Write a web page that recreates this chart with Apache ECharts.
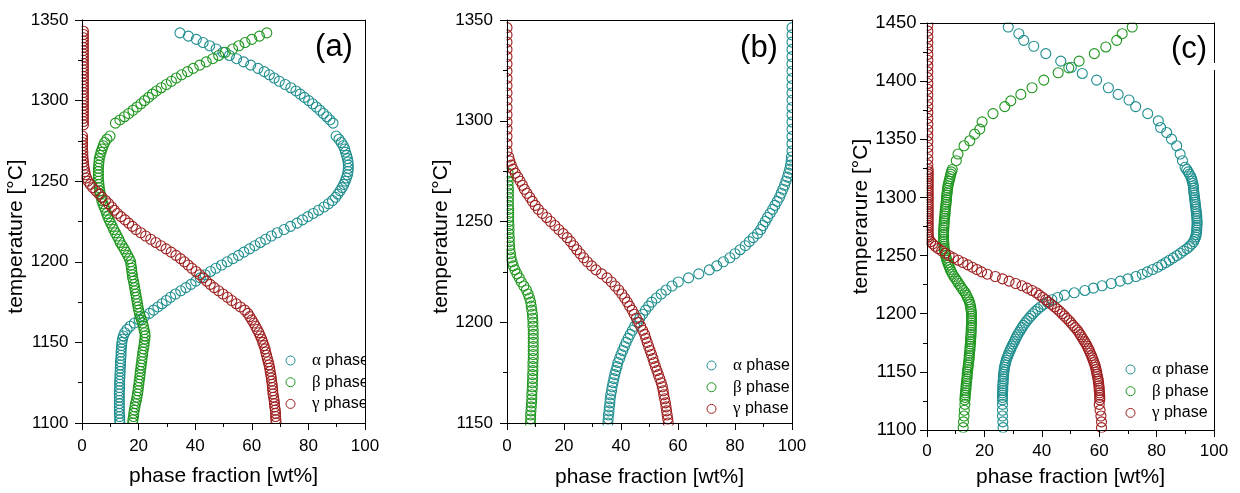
<!DOCTYPE html>
<html><head><meta charset="utf-8">
<script src="https://cdn.jsdelivr.net/npm/echarts@6/dist/echarts.min.js"></script>
<style>html,body{margin:0;padding:0;background:#fff}#c{width:1240px;height:493px}</style>
</head><body><div id="c"></div>
<script>
// ---------- data ----------
const seriesNames = ['α phase', 'β phase', 'γ phase'];
const xTicks = [0, 20, 40, 60, 80, 100];
const yTicksA = [1100, 1150, 1200, 1250, 1300, 1350];
const yTicksB = [1150, 1200, 1250, 1300, 1350];
const yTicksC = [1100, 1150, 1200, 1250, 1300, 1350, 1400, 1450];

// panel (a): lower dense branch
const tA = [1100,1102,1104,1106,1108,1110,1112,1114,1116,1118,
 1120,1122,1124,1126,1128,1130,1132,1134,1136,1138,
 1140,1142,1144,1146,1148,1150,1152,1154,1156,1158,
 1160,1162,1164,1166,1168,1170,1172,1174,1176,1178,
 1180,1182,1184,1186,1188,1190,1192,1194,1196,1198,
 1200,1202,1204,1206,1208,1210,1212,1214,1216,1218,
 1220,1222,1224,1226,1228,1230,1232,1234,1236,1238,
 1240,1242,1244,1246,1248,1250,1252,1254,1256,1258,
 1260,1262,1264,1266,1268,1270,1272,1274,1276,1278];
const alphaA = [13.4,13.3,13.3,13.2,13.2,13.2,13.2,13.2,13.2,13.2,
 13.2,13.3,13.3,13.3,13.4,13.4,13.5,13.5,13.6,13.6,
 13.7,13.8,13.8,13.9,14.0,14.1,14.3,14.6,15.1,15.9,
 17.0,18.5,20.2,22.0,23.8,25.3,26.8,28.3,29.8,31.3,
 33.0,34.9,36.7,38.5,40.2,41.8,43.5,45.4,47.3,49.3,
 51.3,53.3,55.3,57.2,59.2,61.1,63.0,64.9,66.9,69.0,
 71.4,73.7,76.0,77.9,79.8,81.7,83.6,85.5,87.1,88.5,
 89.6,90.4,91.2,91.9,92.5,93.0,93.4,93.8,94.0,94.1,
 94.1,94.0,93.8,93.5,93.1,92.8,92.3,91.6,90.8,89.8];
const betaA = [17.9,18.0,18.2,18.3,18.5,18.7,18.9,19.2,19.4,19.6,
 19.8,19.9,20.1,20.2,20.4,20.5,20.6,20.8,20.9,21.1,
 21.2,21.4,21.5,21.7,21.9,22.0,22.2,22.3,22.2,21.9,
 21.7,21.4,21.0,20.6,20.3,20.0,19.8,19.6,19.4,19.2,
 19.0,18.8,18.6,18.4,18.2,17.9,17.8,17.6,17.5,17.3,
 17.2,16.7,16.1,15.5,14.9,14.2,13.5,13.0,12.4,11.8,
 11.2,10.7,10.1,9.6,9.1,8.7,8.3,7.8,7.4,7.0,
 6.8,6.5,6.3,6.1,6.0,5.9,5.8,5.8,5.8,5.8,
 5.9,6.0,6.1,6.4,6.7,7.1,7.5,8.0,8.8,9.9];
const gammaA = [68.6,68.5,68.4,68.4,68.3,68.1,68.0,67.9,67.7,67.5,
 67.4,67.3,67.2,67.0,66.9,66.7,66.5,66.3,66.1,65.8,
 65.5,65.2,64.9,64.7,64.3,63.9,63.5,63.0,62.5,61.9,
 61.3,60.7,60.0,59.3,58.6,57.5,56.0,54.5,52.9,51.4,
 49.8,48.3,46.7,45.3,44.0,42.8,41.6,40.3,38.8,37.5,
 36.2,34.8,33.2,31.5,29.7,27.9,26.1,24.3,22.5,20.8,
 19.1,17.8,16.5,15.2,13.8,12.5,11.4,10.5,9.4,8.3,
 7.1,6.0,4.9,3.8,2.9,2.1,1.6,1.2,1.0,0.8,
 0.6,0.5,0.4,0.3,0.3,0.2,0.2,0.2,0.2,0.2];
// panel (a): upper branch
const tAU = [1286,1288,1290,1292,1294,1296,1298,1300,1302,1304,1306,1308,1310,1312,1314,
 1316,1318,1320,1322,1324,1326,1328,1330,1332,1334,1336,1338,1340,1342];
const alphaAU = [88.7,87.6,86.5,85.3,84.1,82.8,81.5,80.1,78.6,77.1,75.6,73.8,71.8,69.7,67.9,
 66.2,64.4,62.2,59.6,57.1,54.6,52.1,49.8,47.4,45.1,42.8,40.4,37.6,34.6];
const betaAU = [11.8,13.4,15.0,16.5,18.0,19.4,20.8,22.1,23.5,24.9,26.3,28.0,29.8,31.6,33.3,
 35.2,37.3,39.3,41.6,43.9,46.2,48.3,50.6,53.2,55.4,57.6,60.0,62.7,65.3];
const tAU2 = [1285,1287,1289,1291,1293,1295,1297,1299,1301,1303,1305,1307,1309,1311,1313,1315,1317,1319,1321,
 1323,1325,1327,1329,1331,1333,1335,1337,1339,1341,1343];
const gammaAU = [0.5,0.5,0.5,0.5,0.5,0.5,0.5,0.5,0.5,0.5,0.5,0.5,0.5,0.5,0.5,
 0.5,0.5,0.5,0.5,0.5,0.5,0.5,0.5,0.5,0.5,0.5,0.5,0.5,0.5,0.5];

// panel (b)
const tB = [1150,1152,1154,1156,1158,1160,1162,1164,1166,1168,
 1170,1172,1174,1176,1178,1180,1182,1184,1186,1188,
 1190,1192,1194,1196,1198,1200,1202,1204,1206,1208,
 1210,1212,1214,1216,1218,1220,1222,1224,1226,1228,
 1230,1232,1234,1236,1238,1240,1242,1244,1246,1248,
 1250,1252,1254,1256,1258,1260,1262,1264,1266,1268,
 1270,1272,1274,1276,1278,1280,1282];
const alphaB = [35.4,35.5,35.6,35.8,35.9,36.1,36.2,36.4,36.7,36.9,
 37.2,37.5,37.8,38.2,38.6,38.9,39.5,40.0,40.6,41.2,
 41.8,42.5,43.2,44.0,44.8,45.7,46.6,47.6,48.6,49.7,
 50.8,52.4,54.1,55.8,57.9,60.1,63.7,67.3,71.0,73.6,
 75.9,78.2,80.0,81.8,83.6,85.0,86.4,87.9,89.0,89.8,
 90.6,91.4,92.3,93.2,94.0,94.8,95.6,96.2,96.8,97.4,
 97.9,98.4,98.8,99.2,99.5,99.7,99.8];
const gammaB = [56.6,56.4,56.2,56.0,55.8,55.6,55.3,55.0,54.8,54.5,
 54.1,53.6,53.1,52.6,52.1,51.6,51.2,50.7,50.2,49.7,
 49.2,48.7,48.3,47.6,46.9,46.2,45.4,44.6,43.9,43.0,
 42.2,41.3,40.3,39.2,37.9,36.6,35.1,33.2,31.2,29.7,
 28.2,26.9,25.7,24.5,23.4,22.3,21.1,19.7,18.2,16.8,
 15.3,13.9,12.4,11.0,9.9,8.9,8.0,7.0,6.1,5.4,
 4.6,3.8,2.9,2.1,1.5,1.0,0.6];
const tB2 = [1150,1152,1154,1156,1158,1160,1162,1164,1166,1168,
 1170,1172,1174,1176,1178,1180,1182,1184,1186,1188,
 1190,1192,1194,1196,1198,1200,1202,1204,1206,1208,
 1210,1212,1214,1216,1218,1220,1222,1224,1226,1228,
 1230,1232,1234,1236,1238,1240,1242,1244,1246,1248,
 1250,1252,1254,1256,1258,1260,1262,1264,1266,1268,
 1270,1272,1274];
const betaB = [8.2,8.3,8.3,8.4,8.5,8.6,8.7,8.7,8.8,8.9,
 8.9,9.0,9.0,9.1,9.1,9.1,9.2,9.2,9.2,9.2,
 9.2,9.2,9.2,9.2,9.1,9.1,9.0,8.9,8.7,8.5,
 8.3,7.9,7.4,6.8,5.9,5.0,4.3,3.5,2.8,2.2,
 1.8,1.4,1.2,1.0,0.9,0.8,0.8,0.7,0.7,0.7,
 0.6,0.6,0.6,0.6,0.5,0.5,0.5,0.5,0.5,0.4,
 0.4,0.4,0.4];
const tBU = [1285.0,1288.6,1292.2,1295.8,1299.4,1303.0,1306.6,1310.2,1313.8,
 1317.4,1321.0,1324.6,1328.2,1331.8,1335.4,1339.0,1342.6,1346.2];
const alphaBU = [100,100,100,100,100,100,100,100,100,100,100,100,100,100,100,100,100,100];
const gammaBU = [0,0,0,0,0,0,0,0,0,0,0,0,0,0,0,0,0,0];

// panel (c): dense branch
const tC = [1126,1128,1130,1132,1134,1136,1138,1140,1142,1144,
 1146,1148,1150,1152,1154,1156,1158,1160,1162,1164,
 1166,1168,1170,1172,1174,1176,1178,1180,1182,1184,
 1186,1188,1190,1192,1194,1196,1198,1200,1202,1204,
 1206,1208,1210,1212,1214,1216,1218,1220,1222,1224,
 1226,1228,1230,1232,1234,1236,1238,1240,1242,1244,
 1246,1248,1250,1252,1254,1256,1258,1260,1262,1264,
 1266,1268,1270,1272,1274,1276,1278,1280,1282,1284,
 1286,1288,1290,1292,1294,1296,1298,1300,1302,1304,
 1306,1308,1310,1312,1314,1316,1318,1320,1322,1324];
const alphaC = [26.3,26.3,26.3,26.3,26.4,26.4,26.4,26.5,26.5,26.6,
 26.6,26.7,26.8,26.9,27.0,27.2,27.4,27.6,27.9,28.2,
 28.5,28.9,29.2,29.6,30.0,30.4,30.8,31.2,31.6,32.1,
 32.6,33.1,33.6,34.2,34.8,35.5,36.2,36.9,37.7,38.6,
 39.6,40.7,41.9,43.5,45.5,47.9,51.3,55.0,58.0,61.0,
 64.2,67.3,70.0,72.8,75.0,76.8,78.6,80.4,81.8,83.2,
 84.5,85.8,87.1,88.3,89.4,90.6,91.5,92.3,92.9,93.3,
 93.6,93.8,93.9,94.0,94.0,94.1,94.1,94.1,94.0,94.0,
 93.9,93.8,93.7,93.6,93.5,93.4,93.3,93.2,93.1,93.0,
 92.9,92.9,92.8,92.6,92.4,92.2,91.9,91.4,91.0,90.5];
const betaC = [13.2,13.3,13.3,13.4,13.5,13.6,13.6,13.7,13.8,13.9,
 14.0,14.0,14.1,14.2,14.3,14.4,14.5,14.6,14.7,14.7,
 14.8,14.9,15.0,15.0,15.1,15.2,15.2,15.3,15.3,15.4,
 15.4,15.4,15.5,15.5,15.5,15.5,15.5,15.5,15.4,15.3,
 15.2,15.0,14.8,14.5,14.1,13.7,13.3,12.7,12.1,11.6,
 11.0,10.5,10.0,9.4,8.9,8.5,8.1,7.8,7.5,7.2,
 6.9,6.7,6.5,6.3,6.1,6.0,5.9,5.9,5.8,5.8,
 5.8,5.8,5.8,5.8,5.9,5.9,6.0,6.0,6.1,6.2,
 6.3,6.3,6.4,6.5,6.6,6.7,6.8,6.8,6.9,7.0,
 7.1,7.2,7.3,7.5,7.7,7.9,8.1,8.3,8.5,8.8];
const gammaC = [60.2,60.2,60.2,60.1,60.0,60.0,59.9,59.8,59.7,59.6,
 59.4,59.2,59.1,58.9,58.7,58.5,58.2,57.9,57.6,57.3,
 56.9,56.6,56.2,55.8,55.4,54.9,54.4,53.9,53.4,52.9,
 52.3,51.6,50.9,50.2,49.5,48.7,47.9,47.1,46.3,45.4,
 44.4,43.4,42.4,41.4,40.3,39.2,38.1,36.6,34.9,33.1,
 30.9,28.6,26.3,23.8,21.0,19.0,17.4,15.8,14.2,12.5,
 10.9,9.2,7.7,6.4,5.1,3.9,2.9,2.0,1.3,0.7,
 0.5,0.4,0.4,0.4,0.4,0.4,0.4,0.4,0.4,0.4,
 0.4,0.4,0.4,0.4,0.4,0.4,0.4,0.4,0.4,0.4,
 0.4,0.4,0.4,0.4,0.4,0.4,0.4,0.4,0.4,0.4];
// panel (c): sparse low-temperature points
const tCL = [1102,1107,1112,1117,1122];
const alphaCL = [26.5,26.4,26.3,26.3,26.3];
const betaCL = [12.6,12.7,12.9,13.0,13.2];
const gammaCL = [60.8,60.8,60.6,60.3,60.0];
// panel (c): sparse high-temperature points
const tCUa = [1325.9,1331.6,1337.3,1344.4,1350.1,1355.8,1360.1,1365.8,1372.1,1378.1,1383.8,
 1388.6,1394.3,1400.9,1406.6,1411.9,1417.2,1423.7,1430.0,1435.1,1440.8,1446.5];
const alphaCU = [89.9,89.0,88.2,87.0,85.2,83.5,81.4,80.6,76.9,72.7,70.4,
 66.6,63.2,59.1,54.1,50.3,46.6,41.4,37.2,33.7,32.0,28.3];
const tCUb = [1331.6,1337.3,1344.4,1348.7,1354.4,1358.7,1365.0,1372.1,1378.1,1383.0,1388.6,
 1394.3,1400.9,1407.2,1411.4,1417.2,1423.7,1429.4,1435.1,1440.8,1446.5];
const betaCU = [10.2,10.8,12.9,14.9,16.6,18.4,19.2,23.0,27.1,29.2,32.7,
 36.6,40.7,45.7,49.4,53.0,58.3,62.3,66.1,68.0,71.5];
const tCUg = [1328,1333,1338,1343,1348,1353,1358,1363,1368,1373,1378,1383,1388,
 1393,1398,1403,1408,1413,1418,1423,1428,1433,1438,1443,1448];
const gammaCU = [0.3,0.3,0.3,0.3,0.3,0.3,0.3,0.3,0.3,0.3,0.3,0.3,0.3,
 0.3,0.3,0.3,0.3,0.3,0.3,0.3,0.3,0.3,0.3,0.3,0.3];

// ---------- styling / layout ----------
const COL = ['#1f8e8e', '#1f961f', '#9e1f1f'];
const FONT = '"Liberation Sans", Arial, Helvetica, sans-serif';
const grids = [
  {left: 82, top: 20, width: 283, height: 403},
  {left: 507, top: 20, width: 285, height: 405},
  {left: 927, top: 23, width: 287, height: 409}
];
const panelCfg = [
  {yMin: 1100, yMax: 1350, yName: 'temperature [°C]', yGap: 50, yPad: [0, 30, 0, 0], yFs: 17, yMargin: 13.5, xGap: 43, xMargin: 14.5, label: '(a)', lx: 334, ly: 47, leg: [280.5, 347]},
  {yMin: 1150, yMax: 1350, yName: 'temperature [°C]', yGap: 51, yPad: [0, 30, 0, 0], yFs: 17, yMargin: 14, xGap: 44, xMargin: 14.5, label: '(b)', lx: 759, ly: 48, leg: [701.5, 352]},
  {yMin: 1100, yMax: 1450, yName: 'temperarure [°C]', yGap: 53.5, yPad: [0, 0, 0, 20], yFs: 18.5, yMargin: 10.5, xGap: 37, xMargin: 12.5, label: '(c)', lx: 1189, ly: 49, leg: [1120.5, 356]}
];

const zip = (ts, xs) => ts.map((t, i) => [xs[i], t]);
const plain = v => String(v);

const xAxes = [], yAxes = [], series = [], legends = [], graphics = [];
const black = {color: '#000', width: 1};

grids.forEach((g, i) => {
  const p = panelCfg[i];
  xAxes.push({
    gridIndex: i, type: 'value', min: 0, max: 100, interval: 20, position: 'bottom', z: 10,
    axisLine: {show: true, onZero: false, lineStyle: black},
    axisTick: {show: true, inside: false, length: 7, lineStyle: black},
    minorTick: {show: true, splitNumber: 2, length: 4, lineStyle: black},
    splitLine: {show: false}, minorSplitLine: {show: false},
    axisLabel: {color: '#000', fontSize: 17, fontFamily: FONT, margin: p.xMargin, formatter: plain},
    name: 'phase fraction [wt%]', nameLocation: 'middle', nameGap: p.xGap,
    nameTextStyle: {color: '#000', fontSize: 21, fontFamily: FONT}
  });
  xAxes.push({
    gridIndex: i, type: 'value', min: 0, max: 100, position: 'top', z: 10,
    axisLine: {show: true, onZero: false, lineStyle: black},
    axisTick: {show: false}, axisLabel: {show: false}, splitLine: {show: false}
  });
  yAxes.push({
    gridIndex: i, type: 'value', min: p.yMin, max: p.yMax, interval: 50, position: 'left', z: 10,
    axisLine: {show: true, onZero: false, lineStyle: black},
    axisTick: {show: true, inside: false, length: 7, lineStyle: black},
    minorTick: {show: true, splitNumber: 2, length: 4, lineStyle: black},
    splitLine: {show: false}, minorSplitLine: {show: false},
    axisLabel: {color: '#000', fontSize: p.yFs, fontFamily: FONT, margin: p.yMargin, formatter: plain},
    name: p.yName, nameLocation: 'middle', nameGap: p.yGap,
    nameTextStyle: {color: '#000', fontSize: 21, fontFamily: FONT, padding: p.yPad}
  });
  yAxes.push({
    gridIndex: i, type: 'value', min: p.yMin, max: p.yMax, position: 'right', z: 10,
    axisLine: {show: true, onZero: false, lineStyle: black},
    axisTick: {show: false}, axisLabel: {show: false}, splitLine: {show: false}
  });
  // white masks just outside each plot frame, so markers are cut at the frame
  const L = g.left, T = g.top, W = g.width, H = g.height;
  [[L - 14, T - 12, 13.5, H + 24], [L + W + 0.5, T - 12, 12, H + 24],
   [L - 14, T - 12, W + 26, 11.5], [L - 14, T + H + 0.5, W + 26, 12]].forEach(r => {
    graphics.push({type: 'rect', z: 5, silent: true, shape: {x: r[0], y: r[1], width: r[2], height: r[3]}, style: {fill: '#fff'}});
  });
  graphics.push({type: 'text', z: 20, silent: true, x: p.lx, y: p.ly,
    style: {text: p.label, fill: '#000', font: '31px ' + FONT, align: 'center', verticalAlign: 'middle'}});
  legends.push({
    left: p.leg[0], top: p.leg[1], orient: 'vertical', selectedMode: false,
    itemWidth: 9, itemHeight: 9, itemGap: 4.7, icon: 'circle',
    data: seriesNames.map((n, k) => ({name: n, itemStyle: {color: 'rgba(0,0,0,0)', borderColor: COL[k], borderWidth: 1, opacity: 1}})),
    formatter: n => '{g|' + n.charAt(0) + '}{t|' + n.slice(1) + '}',
    textStyle: {color: '#000', fontSize: 16, fontFamily: FONT, lineHeight: 16,
      rich: {
        g: {fontFamily: '"Liberation Serif", "Times New Roman", serif', fontSize: 17, lineHeight: 16, padding: [0, 0, 0, 12], color: '#000'},
        t: {fontFamily: FONT, fontSize: 16, lineHeight: 16, color: '#000'}
      }}
  });
});

function addSeries(panel, k, ts, xs) {
  series.push({
    type: 'scatter', name: seriesNames[k], xAxisIndex: panel * 2, yAxisIndex: panel * 2,
    data: zip(ts, xs), symbol: 'circle', symbolSize: 10, color: COL[k],
    itemStyle: {color: 'rgba(0,0,0,0)', borderColor: COL[k], borderWidth: 1.1, opacity: 1},
    emphasis: {disabled: true}, silent: true, animation: false, z: 2 + k * 0.01
  });
}
// panel (a)
addSeries(0, 0, tA, alphaA); addSeries(0, 0, tAU, alphaAU);
addSeries(0, 1, tA, betaA); addSeries(0, 1, tAU, betaAU);
addSeries(0, 2, tA, gammaA); addSeries(0, 2, tAU2, gammaAU);
// panel (b)
addSeries(1, 0, tB, alphaB); addSeries(1, 0, tBU, alphaBU);
addSeries(1, 1, tB2, betaB);
addSeries(1, 2, tB, gammaB); addSeries(1, 2, tBU, gammaBU);
// panel (c)
addSeries(2, 0, tC, alphaC); addSeries(2, 0, tCL, alphaCL); addSeries(2, 0, tCUa, alphaCU);
addSeries(2, 1, tC, betaC); addSeries(2, 1, tCL, betaCL); addSeries(2, 1, tCUb, betaCU);
addSeries(2, 2, tC, gammaC); addSeries(2, 2, tCL, gammaCL); addSeries(2, 2, tCUg, gammaCU);

// small break in the right frame of panel (c) next to its label
graphics.push({type: 'rect', z: 30, silent: true, shape: {x: 1211.5, y: 63, width: 5, height: 7}, style: {fill: '#fff'}});

const chart = echarts.init(document.getElementById('c'), null, {renderer: 'canvas'});
chart.setOption({
  backgroundColor: '#fff', animation: false,
  grid: grids.map(g => Object.assign({containLabel: false}, g)),
  xAxis: xAxes, yAxis: yAxes, series: series, legend: legends,
  graphic: graphics, tooltip: {show: false}
});
</script></body></html>
